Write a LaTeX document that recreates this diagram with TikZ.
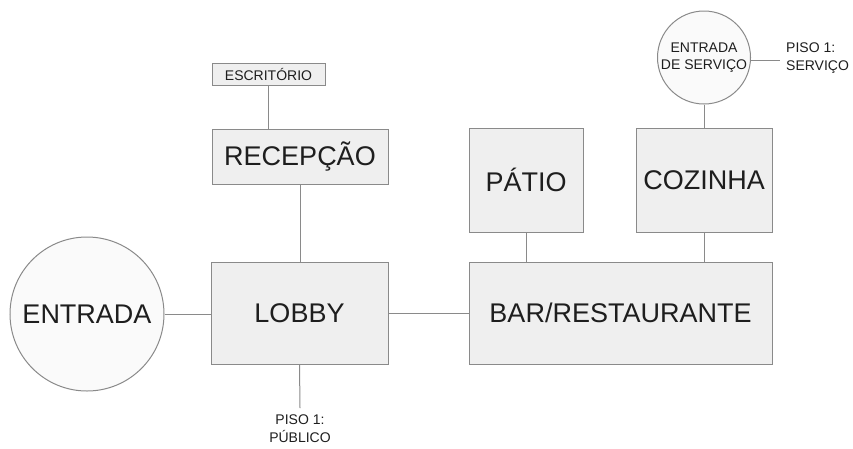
\documentclass[tikz,border=0pt]{standalone}
\usepackage{fontspec}
\setmainfont{Liberation Sans}
\definecolor{boxfill}{HTML}{EFEFEF}
\definecolor{circfill}{HTML}{FAFAFA}
\definecolor{boxdraw}{HTML}{8A8A8A}
\definecolor{txt}{HTML}{1E1E1E}
\begin{document}
\begin{tikzpicture}[x=1pt,y=-1pt,
  room/.style={draw=boxdraw,fill=boxfill,line width=1pt,text=txt,inner sep=0pt},
  hall/.style={room,circle,fill=circfill},
  bigtext/.style={font=\fontsize{27}{30}\selectfont},
  smalltext/.style={font=\fontsize{14}{16}\selectfont},
  link/.style={draw=boxdraw,line width=1pt},
  lbl/.style={text=txt,inner sep=0pt,font=\fontsize{14}{17.5}\selectfont}]
\useasboundingbox (0,0) rectangle (853,448);
% rooms
\node[hall,minimum size=154pt,bigtext] (entrada) at (87,314) {ENTRADA};
\node[room,minimum width=177pt,minimum height=102pt,bigtext] (lobby) at (299.5,313) {LOBBY};
\node[room,minimum width=303pt,minimum height=102pt,bigtext] (bar) at (620.5,313) {BAR/RESTAURANTE};
\node[room,minimum width=176pt,minimum height=55pt,bigtext] (recepcao) at (300,156.5) {RECEPÇÃO};
\node[room,minimum width=113pt,minimum height=22pt,smalltext] (escritorio) at (268.5,74) {ESCRITÓRIO};
\node[room,minimum width=114pt,minimum height=104pt,bigtext] (patio) at (526,180) {PÁTIO};
\node[room,minimum width=136pt,minimum height=104pt,bigtext] (cozinha) at (704,180) {COZINHA};
\node[hall,minimum size=93pt,align=center,font=\fontsize{14}{16.5}\selectfont] (servico) at (704,57.5) {ENTRADA\\DE SERVIÇO};
% free ends
\coordinate (lobbyend) at (300,408);
\coordinate (servend) at (780,60);
% labels
\node[lbl,align=center,anchor=north] (pisopub) at (300,415) {PISO 1:\\PÚBLICO};
\node[lbl,align=left,anchor=west] (pisoserv) at (786,58) {PISO 1:\\SERVIÇO};
% connectors
\draw[link] (entrada.east) -- (lobby.west |- entrada.east);
\draw[link] (lobby.east) -- (bar.west);
\draw[link] (escritorio.south) -- (escritorio.south |- recepcao.north);
\draw[link] (recepcao.south) -- (recepcao.south |- lobby.north);
\draw[link] (patio.south) -- (patio.south |- bar.north);
\draw[link] (cozinha.south) -- (cozinha.south |- bar.north);
\draw[link] (servico.south) -- (cozinha.north);
\draw[link] (lobby.south) -- (lobbyend);
\draw[link] (servico.east |- servend) -- (servend);
\end{tikzpicture}
\end{document}
